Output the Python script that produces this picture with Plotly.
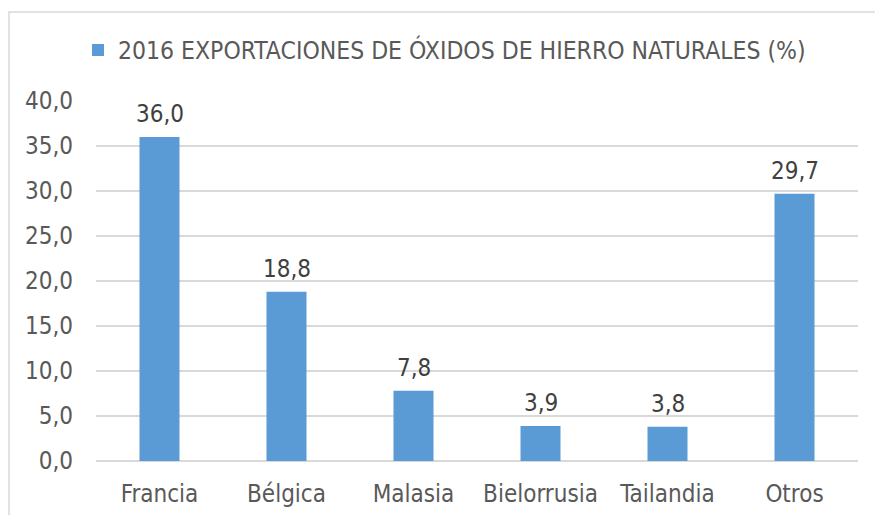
import plotly.graph_objects as go

categories = ["Francia", "Bélgica", "Malasia", "Bielorrusia", "Tailandia", "Otros"]
values = [36.0, 18.8, 7.8, 3.9, 3.8, 29.7]
series_name = "2016 EXPORTACIONES DE ÓXIDOS DE HIERRO NATURALES (%)"
y_ticks = [0, 5, 10, 15, 20, 25, 30, 35, 40]

FONT = "DejaVu Sans Condensed, Liberation Sans, sans-serif"
BLUE = "#5B9BD5"
GREY = "#595959"
FS = 24

fig = go.Figure()
fig.add_trace(go.Bar(
    x=categories, y=values, name=series_name,
    marker=dict(color=BLUE, line=dict(width=0)),
    showlegend=True, hoverinfo="skip",
))

for c, v in zip(categories, values):
    fig.add_annotation(
        x=c, y=v, text=f"{v:.1f}".replace(".", ","),
        showarrow=False, yanchor="bottom", yshift=7,
        font=dict(family=FONT, size=FS, color="#404040"),
    )

fig.add_shape(type="rect", xref="paper", yref="paper",
              x0=-0.1142, x1=1.2, y0=-0.4, y1=1.2472,
              line=dict(color="#D9D9D9", width=1.5), fillcolor="rgba(0,0,0,0)",
              layer="below")

fig.update_layout(
    width=875, height=515,
    margin=dict(l=96, r=17, t=101, b=54, autoexpand=False),
    paper_bgcolor="white", plot_bgcolor="white",
    separators=", ",
    bargap=0.685,
    font=dict(family=FONT, size=FS, color=GREY),
    legend=dict(
        orientation="h", x=-0.0236, xanchor="left", y=1.1417, yanchor="middle",
        font=dict(family=FONT, size=24.5, color=GREY),
        bgcolor="rgba(0,0,0,0)",
    ),
    xaxis=dict(
        showgrid=False, showline=False, ticks="", automargin=False,
        ticklabelstandoff=16,
        tickfont=dict(family=FONT, size=FS, color=GREY),
    ),
    yaxis=dict(
        range=[0, 40], tickvals=y_ticks, tickformat=".1f", automargin=False,
        showgrid=True, gridcolor="#D9D9D9", gridwidth=1.5,
        zeroline=True, zerolinecolor="#D9D9D9", zerolinewidth=1.5,
        showline=False, ticks="", ticklabelstandoff=22,
        tickfont=dict(family=FONT, size=FS, color=GREY),
    ),
)

fig.write_html(
    "out.html",
    config={"displayModeBar": False},
    post_script="document.body.style.margin='0';document.body.style.overflow='hidden';",
)
